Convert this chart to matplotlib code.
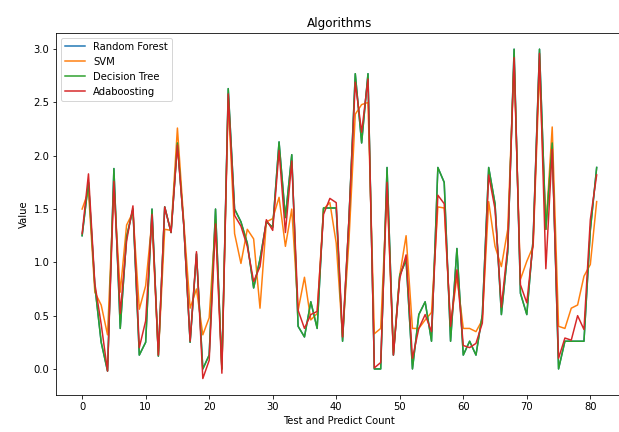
import numpy as np
import matplotlib
matplotlib.use("Agg")
import matplotlib.pyplot as plt

# =============================================================================
# DATA  — values
# =============================================================================

svm = [1.50, 1.67, 0.72, 0.60, 0.32, 1.72, 0.72, 1.35, 1.47, 0.56,
       0.78, 1.40, 0.13, 1.31, 1.30, 2.26, 1.38, 0.57, 0.75, 0.32,
       0.48, 1.40, 0.00, 2.53, 1.27, 0.99, 1.31, 1.22, 0.57, 1.38,
       1.41, 1.61, 1.15, 1.50, 0.55, 0.86, 0.46, 0.52, 1.50, 1.56,
       1.18, 0.30, 1.20, 2.39, 2.48, 2.50, 0.33, 0.38, 1.70, 0.15,
       0.88, 1.25, 0.38, 0.38, 0.46, 0.53, 1.52, 1.51, 0.40, 0.87,
       0.38, 0.38, 0.35, 0.46, 1.57, 1.15, 0.96, 1.31, 2.89, 0.84,
       1.01, 1.15, 2.81, 1.31, 2.27, 0.40, 0.38, 0.57, 0.60, 0.87,
       0.98, 1.57]

decision_tree = [1.25, 1.75, 0.78, 0.25, -0.02, 1.88, 0.38, 1.24, 1.50, 0.13,
                 0.25, 1.50, 0.12, 1.52, 1.28, 2.12, 1.35, 0.25, 1.08, 0.00,
                 0.13, 1.50, 0.00, 2.63, 1.50, 1.38, 1.18, 0.76, 1.03, 1.38,
                 1.33, 2.13, 1.42, 2.01, 0.40, 0.30, 0.63, 0.38, 1.51, 1.51,
                 1.51, 0.26, 1.40, 2.77, 2.12, 2.77, 0.00, 0.00, 1.89, 0.13,
                 0.88, 1.02, 0.00, 0.51, 0.63, 0.26, 1.89, 1.75, 0.26, 1.13,
                 0.13, 0.26, 0.13, 0.51, 1.89, 1.55, 0.51, 1.10, 3.00, 0.71,
                 0.51, 1.22, 3.00, 1.31, 2.12, 0.00, 0.26, 0.26, 0.26, 0.26,
                 1.30, 1.89]

# random forest sits exactly under the decision tree line
random_forest = list(decision_tree)

adaboosting = [1.27, 1.83, 0.80, 0.42, -0.02, 1.76, 0.52, 1.20, 1.53, 0.20,
               0.45, 1.45, 0.13, 1.52, 1.28, 2.10, 1.35, 0.26, 1.10, -0.09,
               0.08, 1.36, -0.04, 2.58, 1.44, 1.34, 1.15, 0.82, 0.96, 1.40,
               1.30, 2.05, 1.28, 1.95, 0.55, 0.38, 0.51, 0.54, 1.45, 1.60,
               1.56, 0.30, 1.40, 2.69, 2.22, 2.72, 0.01, 0.06, 1.75, 0.13,
               0.85, 1.07, 0.10, 0.38, 0.51, 0.35, 1.63, 1.55, 0.40, 0.93,
               0.22, 0.20, 0.24, 0.43, 1.82, 1.50, 0.58, 1.15, 2.92, 0.79,
               0.62, 1.18, 2.96, 0.94, 2.06, 0.10, 0.29, 0.27, 0.50, 0.37,
               1.40, 1.82]

count = np.arange(len(svm))

# =============================================================================
# PLOT
# =============================================================================

# reference is cropped on the right, so the right spine falls just off the figure
fig = plt.figure(figsize=(619 / 72, 432 / 72), dpi=72)
ax = fig.add_axes([56.4 / 619, 37 / 432, 566 / 619, 362.3 / 432])

ax.plot(count, random_forest, label="Random Forest")
ax.plot(count, svm, label="SVM")
ax.plot(count, decision_tree, label="Decision Tree")
ax.plot(count, adaboosting, label="Adaboosting")

ax.set_title("Algorithms")
ax.set_xlabel("Test and Predict Count")
ax.set_ylabel("Value")
ax.legend(loc="upper left")

fig.savefig("out.png", dpi=72)
